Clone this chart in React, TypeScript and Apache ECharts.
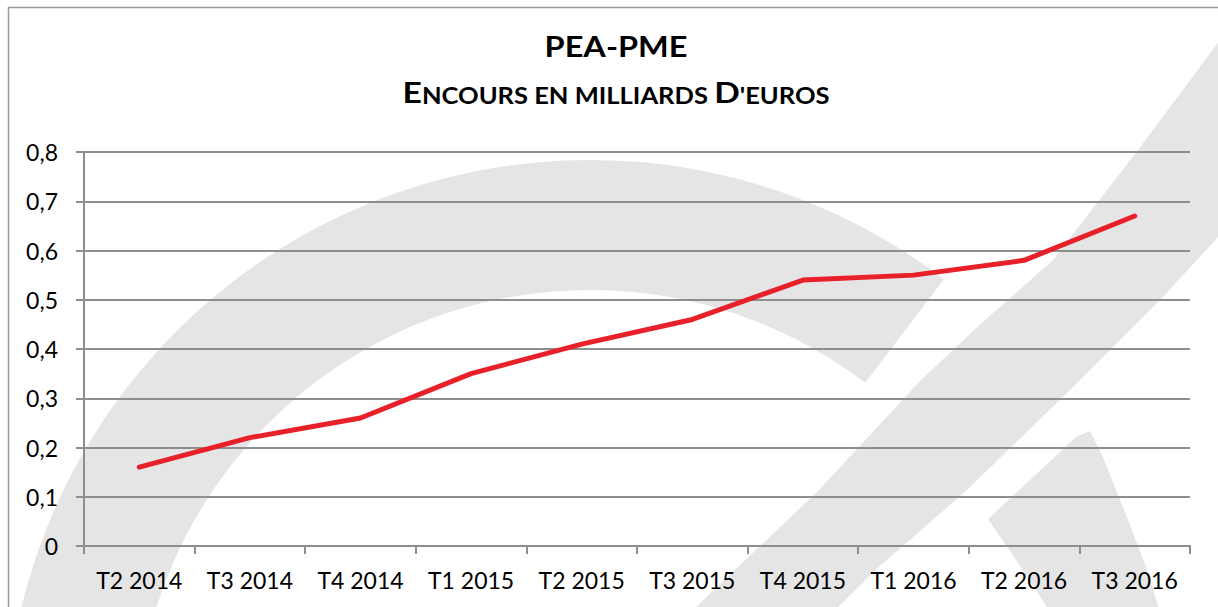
import React, { useEffect, useRef } from "react";
import * as echarts from "echarts";

const categories = ["T2 2014", "T3 2014", "T4 2014", "T1 2015", "T2 2015", "T3 2015", "T4 2015", "T1 2016", "T2 2016", "T3 2016"];
const encours = [0.16, 0.22, 0.26, 0.35, 0.41, 0.46, 0.54, 0.55, 0.58, 0.67];
const yTicks = { min: 0, max: 0.8, interval: 0.1 };

const FONT = "Lato";
const TFONT = "Lato";
const GREY = "#8e8e8e";
const WM = "#e5e5e5";

export default function App() {
  const ref = useRef<HTMLDivElement>(null);
  useEffect(() => {
    if (!ref.current) return;
    const chart = echarts.init(ref.current, undefined, { renderer: "svg" });
    chart.setOption({
      animation: false,
      backgroundColor: "#ffffff",
      textStyle: { fontFamily: FONT },
      grid: { left: 84, right: 28, top: 152, bottom: 61, containLabel: false },
      graphic: [
        {
          type: "sector",
          z: -10,
          silent: true,
          shape: { cx: 590, cy: 745, r: 585, r0: 455, startAngle: Math.PI, endAngle: 2 * Math.PI - 0.921, clockwise: true },
          style: { fill: WM },
        },
        {
          type: "polygon",
          z: -10,
          silent: true,
          shape: {
            points: [
              [1232, 24], [1138, 150], [1053, 260], [985, 320], [921, 380], [818, 491], [696, 607], [682, 625],
              [822, 625], [838, 607], [881, 565], [966, 491], [1070, 390], [1160, 300], [1232, 222],
            ],
          },
          style: { fill: WM },
        },
        {
          type: "polygon",
          z: -10,
          silent: true,
          shape: {
            points: [
              [1076, 437], [1090, 431], [1102, 455], [1116, 490], [1132, 530], [1147, 570], [1164, 625],
              [1058, 625], [1047, 607], [1016, 560], [988, 519],
            ],
          },
          style: { fill: WM },
        },
        {
          type: "rect",
          silent: true,
          shape: { x: 8.5, y: 7.5, width: 1400, height: 800 },
          style: { fill: "none", stroke: "#9a9a9a", lineWidth: 1.5 },
        },
        {
          type: "text",
          x: 616,
          y: 46,
          scaleX: 1.16,
          style: {
            text: "PEA-PME",
            fontFamily: TFONT,
            fontWeight: "bold",
            fontSize: 28,
            fill: "#000",
            align: "center",
            verticalAlign: "middle",
          },
        },
        {
          type: "text",
          x: 616,
          y: 92,
          scaleX: 1.16,
          style: {
            text: "{b|E}{s|NCOURS EN MILLIARDS }{b|D}{s|'EUROS}",
            fontFamily: TFONT,
            align: "center",
            verticalAlign: "middle",
            rich: {
              b: { fontFamily: TFONT, fontWeight: "bold", fontSize: 29, lineHeight: 29, verticalAlign: "bottom", fill: "#000" },
              s: { fontFamily: TFONT, fontWeight: "bold", fontSize: 22, lineHeight: 22, verticalAlign: "bottom", fill: "#000" },
            },
          },
        },
      ],
      xAxis: {
        type: "category",
        data: categories,
        boundaryGap: true,
        axisLine: { show: true, lineStyle: { color: GREY, width: 2 } },
        axisTick: { show: true, length: 8, alignWithLabel: false, lineStyle: { color: GREY, width: 2 } },
        axisLabel: { margin: 22, color: "#000", fontFamily: FONT, fontSize: 23, interval: 0 },
        splitLine: { show: false },
      },
      yAxis: {
        type: "value",
        min: yTicks.min,
        max: yTicks.max,
        interval: yTicks.interval,
        axisLine: { show: true, lineStyle: { color: GREY, width: 2 } },
        axisTick: { show: true, length: 8, lineStyle: { color: GREY, width: 2 } },
        axisLabel: {
          margin: 26,
          color: "#000",
          fontFamily: FONT,
          fontSize: 23,
          formatter: (v: number) => (Math.round(v * 10) / 10).toString().replace(".", ","),
        },
        splitLine: { show: true, lineStyle: { color: GREY, width: 2 } },
      },
      series: [
        {
          type: "line",
          data: encours,
          showSymbol: false,
          symbol: "none",
          lineStyle: { color: "#e8202a", width: 5, cap: "round", join: "round" },
          itemStyle: { color: "#e8202a" },
          z: 5,
        },
      ],
    });
    return () => chart.dispose();
  }, []);
  return <div ref={ref} style={{ position: "fixed", left: 0, top: 0, width: 1218, height: 607 }} />;
}
